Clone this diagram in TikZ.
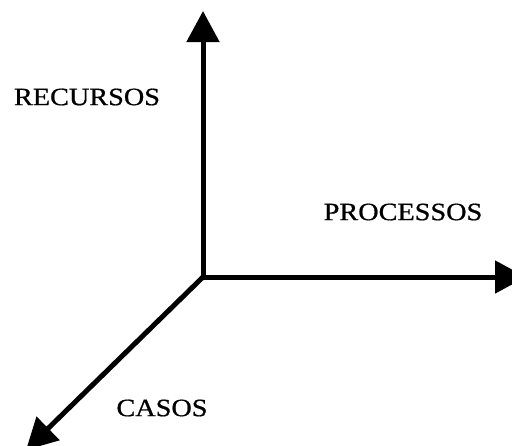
\documentclass[tikz,border=0pt]{standalone}
\usepackage{fontspec}
\setmainfont{Liberation Serif}
\newfontfamily\axisfont[FakeBold=0.7]{Liberation Serif}
\usetikzlibrary{arrows.meta,positioning}
\tikzset{
  axisline/.style={line width=5pt,-{Triangle[length=31pt,width=32pt]}},
  axislabel/.style={font=\axisfont\fontsize{25}{27}\selectfont,xscale=1.13,inner sep=0pt}
}

\begin{document}
\begin{tikzpicture}[x=1pt,y=-1pt]
    \useasboundingbox (0,0) rectangle (512,445);
    \clip (0,0) rectangle (512,445);

    \coordinate (origin) at (203,277);
    \coordinate (recend) at (203,11);
    \coordinate (procend) at (526,277);
    \coordinate (casend) at (26,450);

    \draw[axisline] (origin) -- (recend);
    \draw[axisline] (origin) -- (procend);
    \draw[axisline] (origin) -- (casend);

    \node[axislabel] (recursos) at (87,97) {RECURSOS};
    \node[axislabel] (processos) at (403,212) {PROCESSOS};
    \node[axislabel] (casos) at (162,408) {CASOS};
\end{tikzpicture}
\end{document}
